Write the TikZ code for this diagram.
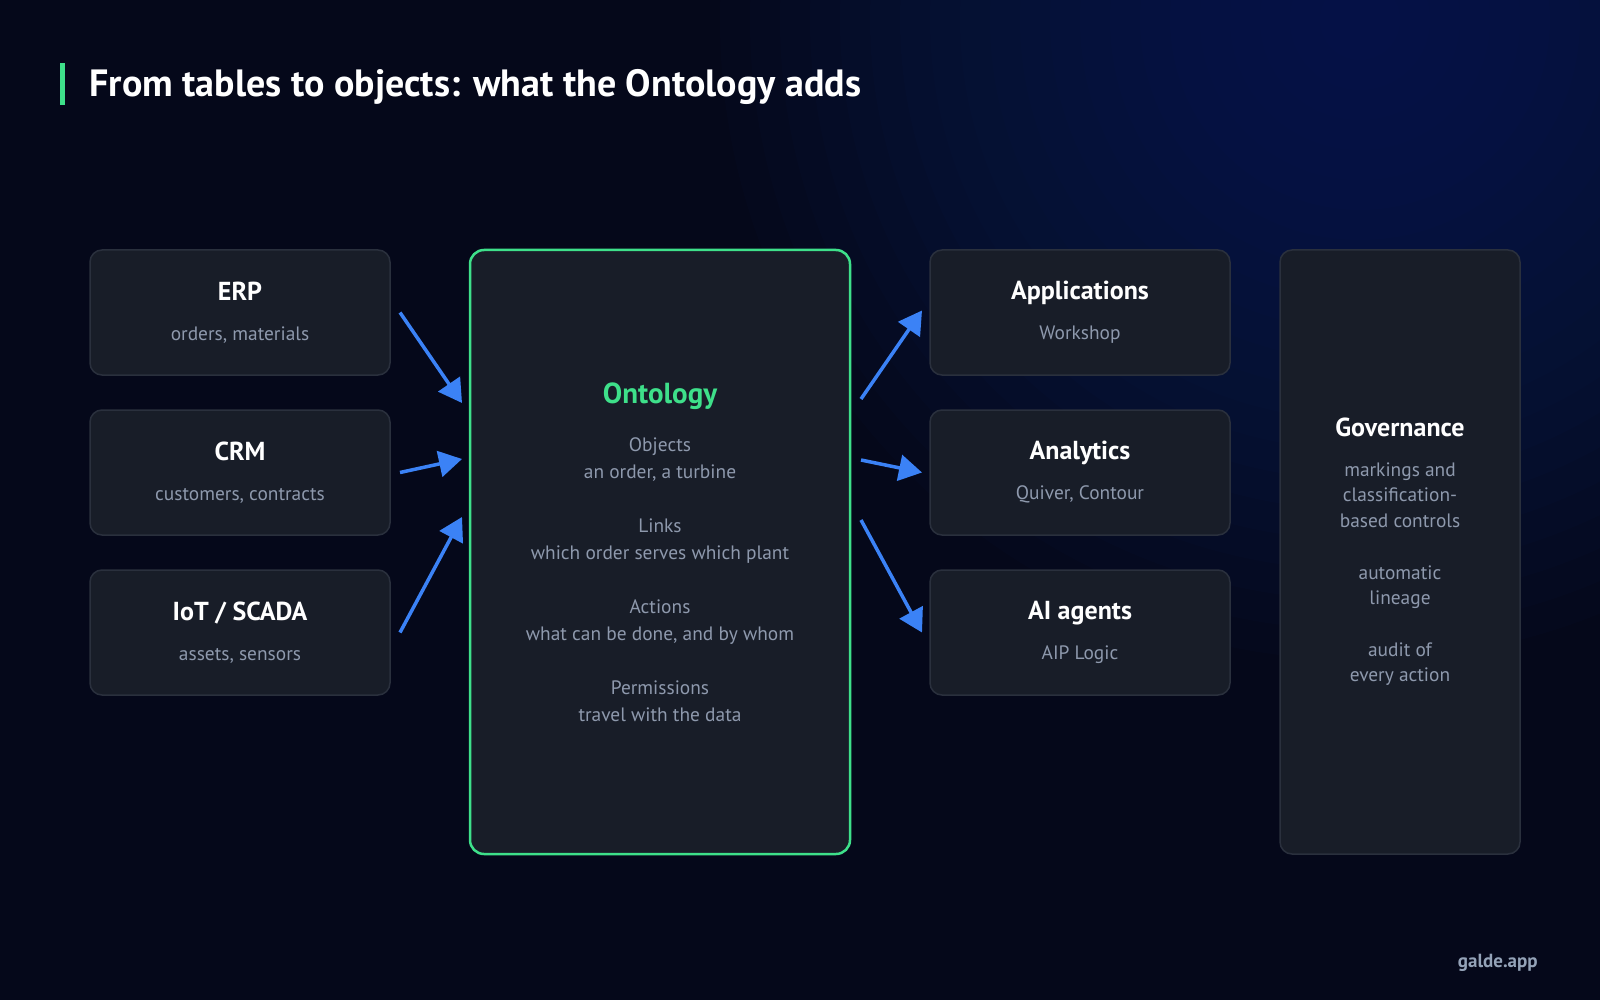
\documentclass[tikz,border=0pt]{standalone}
\usepackage{fontspec}
\setmainfont{PT Sans}
\usetikzlibrary{arrows.meta,positioning,calc}

\definecolor{bgc}{HTML}{05081A}
\definecolor{glowc}{HTML}{0D2468}
\definecolor{card}{HTML}{181D28}
\definecolor{cardline}{HTML}{2A303D}
\definecolor{mint}{HTML}{3EE08A}
\definecolor{flowblue}{HTML}{3B82F6}
\definecolor{muted}{HTML}{8E99AD}
\definecolor{brandgrey}{HTML}{94A3B8}

\newcommand{\headline}[1]{{\fontsize{13}{15}\selectfont\bfseries\color{white}#1}}

\tikzset{
  source/.style={draw=cardline, line width=0.75pt, fill=card, rounded corners=6pt,
    minimum width=150pt, minimum height=62.5pt, align=center, inner sep=0pt, outer sep=0pt,
    text=muted, font=\fontsize{9.7}{13.5}\selectfont},
  core/.style={source, draw=mint, line width=1.25pt, rounded corners=7pt,
    minimum width=190pt, minimum height=302pt},
  govern/.style={source, minimum width=120pt, minimum height=302pt,
    font=\fontsize{9.7}{12.8}\selectfont},
  flow/.style={-{Triangle[length=11.5pt,width=13pt]}, draw=flowblue, line width=1.75pt},
}

\begin{document}
\begin{tikzpicture}[x=0.5pt, y=-0.5pt]
\useasboundingbox (0,0) rectangle (1600,1000);
\fill[bgc] (0,0) rectangle (1600,1000);
\begin{scope}
\clip (0,0) rectangle (1600,1000);
\foreach \r in {640,610,...,40}
  \fill[glowc, opacity=0.05] (1360,20) circle (\r*0.5pt);
\end{scope}

% title
\fill[mint] (60,63) rectangle (65,105);
\node (title) [anchor=base west, inner sep=0pt, text=white, font=\fontsize{19}{21}\selectfont\bfseries]
  at (89,97) {From tables to objects: what the Ontology adds};

% sources
\node[source] (erp) at (240,312.5) {\headline{ERP}\\[6.5pt]orders, materials};
\node[source] (crm) [below=17.5pt of erp] {\headline{CRM}\\[6.5pt]customers, contracts};
\node[source] (iot) [below=17.5pt of crm] {\headline{IoT / SCADA}\\[6.5pt]assets, sensors};

% ontology
\node[core] (onto) [right=40pt of erp.north east, anchor=north west]
  {{\fontsize{14.5}{16}\selectfont\bfseries\color{mint}Ontology}\\[10.5pt]
   Objects\\an order, a turbine\\[13.5pt]
   Links\\which order serves which plant\\[13.5pt]
   Actions\\what can be done, and by whom\\[13.5pt]
   Permissions\\travel with the data};

% consumers
\node[source] (apps) [right=40pt of onto.north east, anchor=north west] {\headline{Applications}\\[6.5pt]Workshop};
\node[source] (analytics) [below=17.5pt of apps] {\headline{Analytics}\\[6.5pt]Quiver, Contour};
\node[source] (agents) [below=17.5pt of analytics] {\headline{AI agents}\\[6.5pt]AIP Logic};

\node[govern] (gov) [right=25pt of apps.north east, anchor=north west]
  {\headline{Governance}\\[7pt]
   markings and\\classification-\\based controls\\[13pt]
   automatic\\lineage\\[13pt]
   audit of\\every action};

\draw[flow] ([xshift=5pt]erp.east) -- ($(onto.west)+(-8,-149)$);
\draw[flow] ([xshift=5pt]crm.east) -- ($(onto.west)+(-8,-93)$);
\draw[flow] ([xshift=5pt]iot.east) -- ($(onto.west)+(-8,-35)$);
\draw[flow] ($(onto.east)+(11,-153)$) -- ([xshift=-4pt,yshift=1pt]apps.west);
\draw[flow] ($(onto.east)+(11,-92)$) -- ([xshift=-4pt]analytics.west);
\draw[flow] ($(onto.east)+(11,-32)$) -- ([xshift=-4pt]agents.west);

\node (brand) [anchor=base east, inner sep=0pt, text=brandgrey, font=\fontsize{9.5}{11}\selectfont\bfseries]
  at (1538,967) {galde.app};
\end{tikzpicture}
\end{document}
